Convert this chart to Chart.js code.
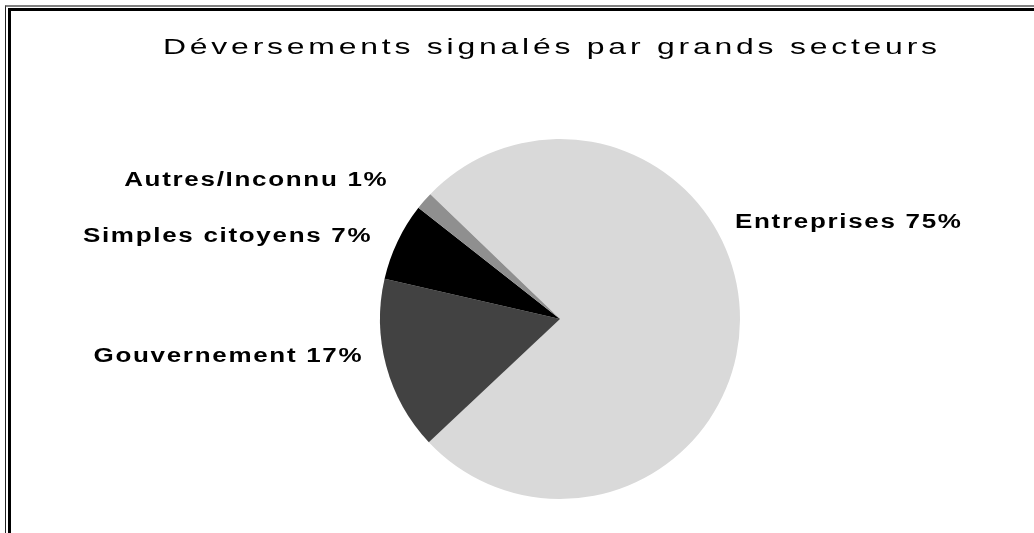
<!DOCTYPE html>
<html>
<head>
<meta charset="utf-8">
<script src="https://cdn.jsdelivr.net/npm/chart.js@4.4.1/dist/chart.umd.min.js"></script>
<style>
  body { margin: 0; background: #fff; }
  #wrap { position: relative; width: 1034px; height: 533px; overflow: hidden; }
  #wrap canvas { position: absolute; left: 0; top: 0; }
  .frame-out { position: absolute; left: 5px; top: 5px; width: 1100px; height: 600px; border-top: 2px solid #808080; border-left: 1px solid #222; }
  .frame-in { position: absolute; left: 8px; top: 8px; width: 1100px; height: 600px; border-top: 3px solid #000; border-left: 3px solid #000; }
</style>
</head>
<body>
<div id="wrap">
  <div class="frame-out"></div>
  <div class="frame-in"></div>
  <canvas id="myChart" width="1034" height="533"></canvas>
</div>
<script>
// data
const chartTitle = 'Déversements signalés par grands secteurs';
const categories = ['Entreprises', 'Gouvernement', 'Simples citoyens', 'Autres/Inconnu'];
const shares = [75.8, 15.6, 7.0, 1.6];
const percentLabels = ['75%', '17%', '7%', '1%'];

// text in the reference is a bit stretched and spaced out
function stretchedText(ctx, text, x, y, sx, ls, align) {
  ctx.save();
  ctx.translate(x, y);
  ctx.scale(sx, 1);
  ctx.letterSpacing = ls + 'px';
  ctx.textAlign = align;
  // right-aligned text carries a trailing letter gap, push it back out
  ctx.fillText(text, align === 'right' ? ls : 0, 0);
  ctx.restore();
}

const titlePlugin = {
  id: 'wideTitle',
  afterDraw(chart, args, opts) {
    const ctx = chart.ctx;
    ctx.save();
    ctx.font = opts.font;
    ctx.fillStyle = '#000';
    ctx.textBaseline = 'alphabetic';
    ctx.letterSpacing = '0px';
    const w0 = ctx.measureText(opts.text).width;
    const ls = Math.max((opts.width / opts.stretch - w0) / (opts.text.length - 1), 0);
    stretchedText(ctx, opts.text, opts.x, opts.y, opts.stretch, ls, 'left');
    ctx.restore();
  }
};

// category labels outside the slices
const outerLabels = {
  id: 'outerLabels',
  afterDatasetsDraw(chart, args, opts) {
    const ctx = chart.ctx;
    const meta = chart.getDatasetMeta(0);
    ctx.save();
    ctx.font = opts.font;
    ctx.fillStyle = '#000';
    ctx.textBaseline = 'middle';
    meta.data.forEach((arc, i) => {
      const p = arc.getProps(['x', 'y', 'startAngle', 'endAngle', 'outerRadius'], true);
      const mid = (p.startAngle + p.endAngle) / 2;
      const r = p.outerRadius + opts.gap;
      const right = Math.cos(mid) >= 0;
      const nudge = opts.nudges[i];
      const x = p.x + Math.cos(mid) * r + nudge[0];
      const y = p.y + Math.sin(mid) * r + nudge[1];
      const txt = chart.data.labels[i] + ' ' + percentLabels[i];
      stretchedText(ctx, txt, x, y, opts.stretch, opts.spacing, right ? 'left' : 'right');
    });
    ctx.restore();
  }
};

const ctx = document.getElementById('myChart').getContext('2d');
new Chart(ctx, {
  type: 'pie',
  data: {
    labels: categories,
    datasets: [{
      data: shares,
      backgroundColor: ['#d9d9d9', '#424242', '#000000', '#8f8f8f'],
      borderWidth: 0,
      hoverOffset: 0
    }]
  },
  options: {
    responsive: false,
    animation: false,
    rotation: -46.1,
    layout: { padding: { left: 380, right: 294, top: 139, bottom: 34 } },
    plugins: {
      legend: { display: false },
      title: { display: false },
      tooltip: { enabled: false },
      wideTitle: { text: chartTitle, font: '22px "Liberation Sans"', x: 163, y: 54, width: 774, stretch: 1.45 },
      outerLabels: {
        font: 'bold 20px "Liberation Sans"',
        stretch: 1.3,
        spacing: 1.3,
        gap: 10,
        nudges: [[-15, -98], [-15, -12], [-18, -1], [-30, -14]]
      }
    }
  },
  plugins: [titlePlugin, outerLabels]
});
</script>
</body>
</html>
